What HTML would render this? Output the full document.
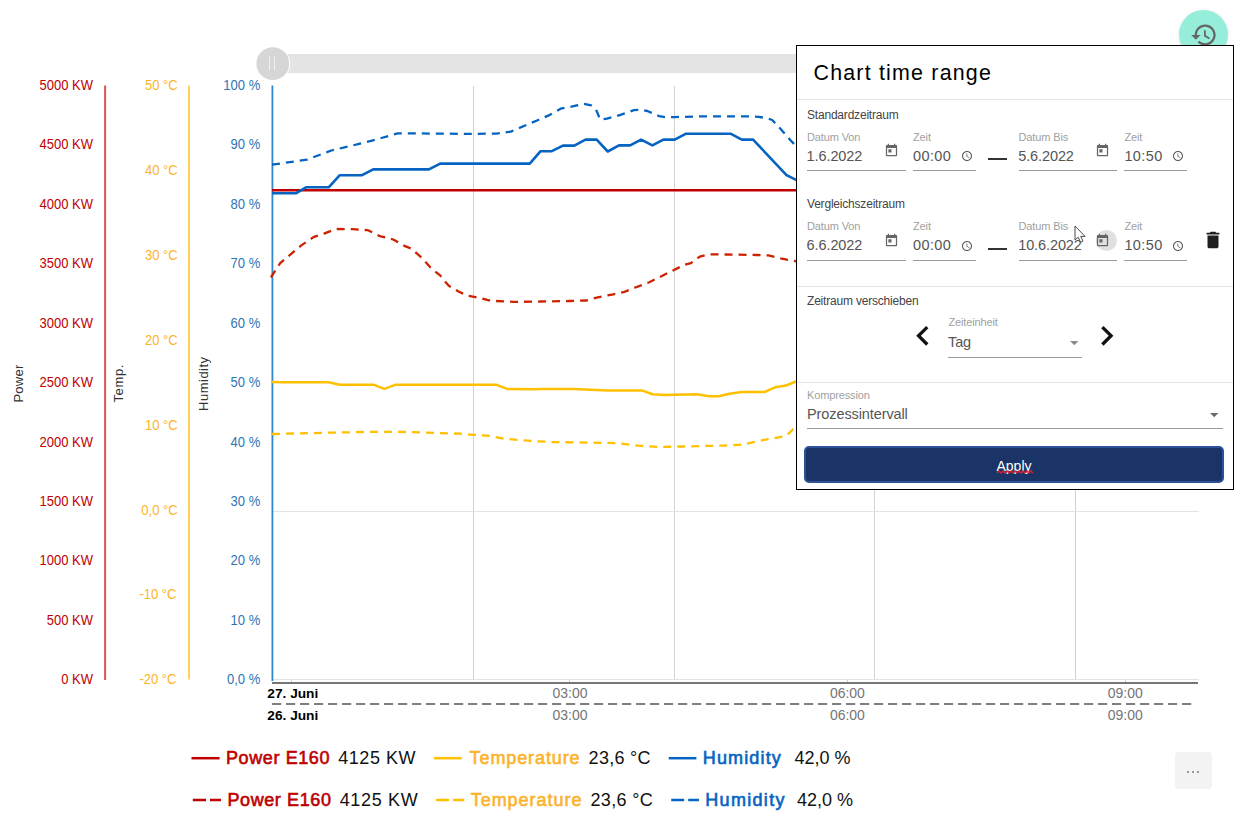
<!DOCTYPE html>
<html lang="de">
<head>
<meta charset="utf-8">
<title>Chart time range</title>
<style>
html,body{margin:0;padding:0;background:#fff;}
body{width:1245px;height:829px;position:relative;overflow:hidden;font-family:"Liberation Sans",sans-serif;}
#chart{position:absolute;left:0;top:0;width:1245px;height:829px;}
#chart text{font-family:"Liberation Sans",sans-serif;}
.yl{font-size:14px;text-anchor:end;}
.red{fill:#c00000;}
.yel{fill:#fbb32b;}
.blu{fill:#2e75b6;}
.at{font-size:13px;fill:#333;text-anchor:middle;}
.xl{font-size:14px;fill:#757575;text-anchor:middle;}
.xb{font-size:13px;font-weight:bold;fill:#000;}
.lg{font-size:18px;font-weight:normal;stroke-width:0.6px;}
.lv{font-size:18px;fill:#111;}
/* history button */
#hist{position:absolute;left:1179px;top:10px;width:49px;height:49px;border-radius:50%;background:#96eeda;box-shadow:0 1px 4px rgba(0,0,0,.10);}
#hist svg{position:absolute;left:10.5px;top:10.5px;width:28px;height:28px;}
/* panel */
#panel{position:absolute;left:796px;top:45px;width:436px;height:443px;border:1px solid #000;background:#fff;}
#panel .o{position:absolute;left:-797px;top:-46px;width:0;height:0;}
#panel .o > *{position:absolute;white-space:nowrap;}
.sep{height:1px;background:#e4e4e4;left:797px;width:436px;}
.ul{height:1px;background:#9a9a9a;}
.t{line-height:1;}
.title{font-size:21.4px;color:#000;letter-spacing:1.2px;}
.sec{font-size:12px;color:#444;letter-spacing:-0.2px;}
.lab{font-size:11px;color:#a0a0a0;letter-spacing:-0.13px;}
.val{font-size:14.5px;color:#555;letter-spacing:-0.1px;}
.tm{letter-spacing:0.4px;}
.dash{height:2px;background:#333;width:18.5px;}
.more{position:absolute;left:1174.5px;top:751.5px;width:37px;height:37px;border-radius:4px;background:#f3f3f3;}
.more i{position:absolute;top:19.5px;width:2px;height:2px;background:#9a9a9a;}
</style>
</head>
<body>
<svg id="chart" viewBox="0 0 1245 829">
<!-- CHART-CONTENT -->
<!-- slider -->
<rect x="273" y="54" width="530" height="19" fill="#e4e4e4"/>
<circle cx="272.8" cy="63.7" r="17.400" fill="#fff"/>
<circle cx="272.8" cy="63.7" r="16.400" fill="#d6d6d6"/>
<rect x="269" y="56" width="1" height="14" fill="#efefef"/>
<rect x="274" y="56" width="1" height="14" fill="#efefef"/>
<!-- grid -->
<g stroke="#d2d2d2" stroke-width="1" shape-rendering="crispEdges">
<line x1="473.5" y1="85.5" x2="473.5" y2="680"/>
<line x1="674.5" y1="85.5" x2="674.5" y2="680"/>
<line x1="874.5" y1="85.5" x2="874.5" y2="680"/>
<line x1="1075.5" y1="85.5" x2="1075.5" y2="680"/>
</g>
<g stroke="#e2e2e2" stroke-width="1" shape-rendering="crispEdges">
<line x1="272" y1="511.5" x2="1199" y2="511.5"/>
<line x1="272" y1="679.5" x2="1199" y2="679.5"/>
</g>
<!-- y axes -->
<line x1="105.1" y1="85.5" x2="105.1" y2="680" stroke="#dd5454" stroke-width="2"/>
<line x1="189" y1="85.5" x2="189" y2="679.5" stroke="#ffcc44" stroke-width="1.8"/>
<line x1="272.4" y1="85.5" x2="272.4" y2="681" stroke="#2e86cc" stroke-width="1.8"/>
<!-- x axis -->
<g stroke="#cfcfcf" stroke-width="1" shape-rendering="crispEdges">
<line x1="291.5" y1="680" x2="291.5" y2="683"/>
<line x1="569.5" y1="680" x2="569.5" y2="683"/>
<line x1="847" y1="680" x2="847" y2="683"/>
<line x1="1125" y1="680" x2="1125" y2="683"/>
</g>
<line x1="272" y1="683" x2="1198" y2="683" stroke="#757575" stroke-width="2"/>
<line x1="272" y1="704.1" x2="1194.6" y2="704.1" stroke="#7f7f7f" stroke-width="2" stroke-dasharray="9.2 4.8"/>
<!-- red labels -->
<g class="yl red">
<text transform="translate(93.0 89.8) scale(.929 1)">5000 KW</text>
<text transform="translate(93.0 149.2) scale(.929 1)">4500 KW</text>
<text transform="translate(93.0 208.7) scale(.929 1)">4000 KW</text>
<text transform="translate(93.0 268.2) scale(.929 1)">3500 KW</text>
<text transform="translate(93.0 327.6) scale(.929 1)">3000 KW</text>
<text transform="translate(93.0 387.1) scale(.929 1)">2500 KW</text>
<text transform="translate(93.0 446.5) scale(.929 1)">2000 KW</text>
<text transform="translate(93.0 506.0) scale(.929 1)">1500 KW</text>
<text transform="translate(93.0 565.4) scale(.929 1)">1000 KW</text>
<text transform="translate(93.0 624.9) scale(.929 1)">500 KW</text>
<text transform="translate(93.0 684.3) scale(.929 1)">0 KW</text>
</g>
<g class="yl yel">
<text transform="translate(177.6 89.8) scale(.929 1)">50 °C</text>
<text transform="translate(177.6 174.7) scale(.929 1)">40 °C</text>
<text transform="translate(177.6 259.7) scale(.929 1)">30 °C</text>
<text transform="translate(177.6 344.6) scale(.929 1)">20 °C</text>
<text transform="translate(177.6 429.5) scale(.929 1)">10 °C</text>
<text transform="translate(177.6 514.5) scale(.929 1)">0,0 °C</text>
<text transform="translate(176.4 599.4) scale(.929 1)">-10 °C</text>
<text transform="translate(176.4 684.3) scale(.929 1)">-20 °C</text>
</g>
<g class="yl blu">
<text transform="translate(260.2 89.8) scale(.929 1)">100 %</text>
<text transform="translate(260.2 149.2) scale(.929 1)">90 %</text>
<text transform="translate(260.2 208.7) scale(.929 1)">80 %</text>
<text transform="translate(260.2 268.2) scale(.929 1)">70 %</text>
<text transform="translate(260.2 327.6) scale(.929 1)">60 %</text>
<text transform="translate(260.2 387.1) scale(.929 1)">50 %</text>
<text transform="translate(260.2 446.5) scale(.929 1)">40 %</text>
<text transform="translate(260.2 506.0) scale(.929 1)">30 %</text>
<text transform="translate(260.2 565.4) scale(.929 1)">20 %</text>
<text transform="translate(260.2 624.9) scale(.929 1)">10 %</text>
<text transform="translate(260.2 684.3) scale(.929 1)">0,0 %</text>
</g>
<!-- axis titles -->
<text class="at" transform="translate(22.7 383.6) rotate(-90)" textLength="38">Power</text>
<text class="at" transform="translate(123.4 383.6) rotate(-90)" textLength="38">Temp.</text>
<text class="at" transform="translate(207.8 383.9) rotate(-90)" textLength="54">Humidity</text>
<!-- x labels -->
<text class="xb" x="267.3" y="697.7" textLength="51" lengthAdjust="spacingAndGlyphs">27. Juni</text>
<text class="xb" x="267.3" y="719.6" textLength="51" lengthAdjust="spacingAndGlyphs">26. Juni</text>
<text class="xl" x="570" y="698.2">03:00</text>
<text class="xl" x="847.4" y="698.2">06:00</text>
<text class="xl" x="1125.3" y="698.2">09:00</text>
<text class="xl" x="570" y="719.8">03:00</text>
<text class="xl" x="847.4" y="719.8">06:00</text>
<text class="xl" x="1125.3" y="719.8">09:00</text>
<!-- series -->
<g fill="none" stroke-linejoin="round">
<polyline stroke="#ffc000" stroke-width="2.5" points="272,381.9 283,382.3 328.5,382.3 339.8,384.7 373.4,384.7 384.3,388.9 395.8,384.7 496,384.7 507.2,388.9 535,389.3 540.8,389.1 573.4,389.1 608,390.4 641.7,390.4 652.5,394.3 664.5,394.9 697,394.3 708.9,396.2 718.7,396.2 729.5,393.8 741.5,392.1 764.2,392.1 775,387.3 785.9,385.6 797,381"/>
<polyline stroke="#ffc000" stroke-width="2.3" stroke-dasharray="8 6" points="272,434 330,432.7 373.4,431.8 406,432 460.2,433.7 473.2,434.8 490.5,435.9 503.6,438.7 533.9,441.1 551.7,442 616.7,443.1 638.4,445.7 660.1,447 681.8,446.5 725.2,445.5 742.5,444.6 764.2,439.8 785.9,436.1 790.2,432.2 794.6,427.5 797,425"/>
<polyline stroke="#cc2200" stroke-width="2.3" stroke-dasharray="8 6" points="270.9,277.4 280.2,263.1 290.3,254.6 301.3,245.4 313.9,236.9 324,233.6 335.8,229 352.7,229.2 367.9,230.2 379.7,236.1 393.2,239.5 405,246.2 411.7,248.7 421.9,258 430.3,267.3 440.4,275.7 442.1,278.2 448.8,285.8 459,291.7 467.4,295.6 474.1,296.8 481.9,298.5 490.3,300.7 513.9,301.9 540.9,301.5 569.6,301 586.4,300.5 596.6,297.6 613.4,294.3 623.5,292.2 635.3,287.5 648.8,282.5 659,277.4 670.8,271.5 684.1,265 690.7,263.2 699.8,256.6 708.2,254.4 726.3,254.5 756.4,255 768.4,255.4 780.5,258.4 797,261.5"/>
<polyline stroke="#0563c1" stroke-width="2.3" stroke-dasharray="8 6" points="272,164.7 307,159.6 331.4,150.5 359,143.9 371,140.9 397.7,133.4 414.6,133.4 470,133.9 496.4,133.6 510.8,131.6 536.5,120.7 549.4,115.1 560.6,108.7 573.5,106.2 583.1,103.8 591.2,105.4 596,109.5 598.4,115.2 600,119.5 606.9,118.6 620.4,114.9 633.9,110.2 640.6,109.8 647.3,111 659.2,116.1 665.9,117.3 674.3,117.1 700,116.4 750.2,116.4 758.7,116.9 767.1,118.1 772.2,120 778.9,127 785.6,134.6 790.7,140.5 794.9,144.8 797,147"/>
<polyline stroke="#c00000" stroke-width="2.5" points="272,190.3 797,190.3"/>
<polyline stroke="#0563c1" stroke-width="2.6" points="272,193.3 295.8,193.3 306,187.3 328.7,187.3 339.8,175.2 362.1,175.2 373.2,169.4 428.9,169.4 440.2,163.6 529.8,163.6 540.6,151.2 551.8,151.2 563,145.6 574.3,145.6 585.5,139.6 596.7,139.6 607.7,151.5 619,145.4 630.1,145.4 641.1,139.6 652.4,145.4 663.4,139.6 674.7,139.6 686.1,133.7 730.5,133.7 741.8,139.6 753.1,139.6 786.5,175.1 797,180.3"/>
</g>
<!-- legend -->
<g fill="none" stroke-width="2.5">
<line x1="191.5" y1="758.2" x2="219.6" y2="758.2" stroke="#c00000"/>
<line x1="434" y1="758.2" x2="461.8" y2="758.2" stroke="#ffc000"/>
<line x1="668.7" y1="758.2" x2="696.4" y2="758.2" stroke="#0563c1"/>
<path d="M192.8 800H206M210 800H221" stroke="#c00000"/>
<path d="M435.9 800H449M453.2 800H464.3" stroke="#ffc000"/>
<path d="M671.2 800H684.2M688.2 800H699" stroke="#0563c1"/>
</g>
<text class="lg" fill="#c00000" stroke="#c00000" x="226" y="763.7" textLength="103.5">Power E160</text>
<text class="lv" x="338.3" y="763.7" textLength="77.2">4125 KW</text>
<text class="lg" fill="#fbb32b" stroke="#fbb32b" x="469.6" y="763.7" textLength="110">Temperature</text>
<text class="lv" x="588.6" y="763.7" textLength="62">23,6 °C</text>
<text class="lg" fill="#0563c1" stroke="#0563c1" x="702.8" y="763.7" textLength="78">Humidity</text>
<text class="lv" x="794.4" y="763.7" textLength="56">42,0 %</text>
<text class="lg" fill="#c00000" stroke="#c00000" x="227.4" y="805.5" textLength="103.5">Power E160</text>
<text class="lv" x="339.7" y="805.5" textLength="78">4125 KW</text>
<text class="lg" fill="#fbb32b" stroke="#fbb32b" x="470.7" y="805.5" textLength="110.7">Temperature</text>
<text class="lv" x="590.4" y="805.5" textLength="62.4">23,6 °C</text>
<text class="lg" fill="#0563c1" stroke="#0563c1" x="705.3" y="805.5" textLength="79.2">Humidity</text>
<text class="lv" x="797" y="805.5" textLength="56">42,0 %</text>
<!-- /CHART-CONTENT -->
</svg>
<div id="hist"><svg viewBox="0 0 24 24"><path fill="#666" d="M13 3c-4.97 0-9 4.03-9 9H1l3.89 3.89.07.14L9 12H6c0-3.870 3.130-7 7-7s7 3.130 7 7-3.130 7-7 7c-1.930 0-3.680-.79-4.940-2.060l-1.420 1.420C8.270 19.990 10.510 21 13 21c4.970 0 9-4.030 9-9s-4.030-9-9-9zm-1 5v5l4.280 2.540.72-1.210-3.500-2.080V8H12z"/></svg></div>
<div class="more"><i style="left:12px"></i><i style="left:17px"></i><i style="left:22.5px"></i></div>
<div id="panel"><div class="o">
<div class="t title" style="left:813.5px;top:62.6px">Chart time range</div>
<div class="sep" style="top:99px"></div>
<div class="t sec" style="left:807px;top:108.7px">Standardzeitraum</div>

<div class="t lab" style="left:807px;top:131.6px">Datum Von</div>
<div class="t val" style="left:806.6px;top:148.7px">1.6.2022</div>
<svg class="cal" style="left:884px;top:143px" width="15" height="15" viewBox="0 0 24 24"><path fill="#666" d="M19 3h-1V1h-2v2H8V1H6v2H5c-1.110 0-1.990.9-1.990 2L3 19c0 1.100.89 2 2 2h14c1.100 0 2-.9 2-2V5c0-1.100-.9-2-2-2zm0 16H5V8h14v11zM7 10h5v5H7z"/></svg>
<div class="ul" style="left:807px;top:170px;width:98.5px"></div>
<div class="t lab" style="left:913px;top:131.6px">Zeit</div>
<div class="t val tm" style="left:913px;top:148.7px">00:00</div>
<svg class="clk" style="left:961px;top:150px" width="12" height="12" viewBox="0 0 24 24"><path fill="#555" d="M11.990 2C6.470 2 2 6.480 2 12s4.470 10 9.990 10C17.520 22 22 17.520 22 12S17.520 2 11.990 2zM12 20c-4.420 0-8-3.580-8-8s3.580-8 8-8 8 3.580 8 8-3.580 8-8 8zm.5-13H11v6l5.250 3.150.75-1.230-4.500-2.670z"/></svg>
<div class="ul" style="left:913px;top:170px;width:62.5px"></div>
<div class="dash" style="left:988px;top:158px"></div>
<div class="t lab" style="left:1018.5px;top:131.6px">Datum Bis</div>
<div class="t val" style="left:1018.2px;top:148.7px">5.6.2022</div>
<svg class="cal" style="left:1095.2px;top:143px" width="15" height="15" viewBox="0 0 24 24"><path fill="#666" d="M19 3h-1V1h-2v2H8V1H6v2H5c-1.110 0-1.990.9-1.990 2L3 19c0 1.100.89 2 2 2h14c1.100 0 2-.9 2-2V5c0-1.100-.9-2-2-2zm0 16H5V8h14v11zM7 10h5v5H7z"/></svg>
<div class="ul" style="left:1018.5px;top:170px;width:98.5px"></div>
<div class="t lab" style="left:1124.4px;top:131.6px">Zeit</div>
<div class="t val tm" style="left:1124.4px;top:148.7px">10:50</div>
<svg class="clk" style="left:1172.3px;top:150px" width="12" height="12" viewBox="0 0 24 24"><path fill="#555" d="M11.990 2C6.470 2 2 6.480 2 12s4.470 10 9.990 10C17.520 22 22 17.520 22 12S17.520 2 11.990 2zM12 20c-4.420 0-8-3.580-8-8s3.580-8 8-8 8 3.580 8 8-3.580 8-8 8zm.5-13H11v6l5.250 3.150.75-1.230-4.500-2.670z"/></svg>
<div class="ul" style="left:1124.4px;top:170px;width:63px"></div>

<div class="t sec" style="left:807px;top:197.8px">Vergleichszeitraum</div>
<div class="t lab" style="left:807px;top:220.6px">Datum Von</div>
<div class="t val" style="left:806.6px;top:238.4px">6.6.2022</div>
<svg class="cal" style="left:884px;top:232.5px" width="15" height="15" viewBox="0 0 24 24"><path fill="#666" d="M19 3h-1V1h-2v2H8V1H6v2H5c-1.110 0-1.990.9-1.990 2L3 19c0 1.100.89 2 2 2h14c1.100 0 2-.9 2-2V5c0-1.100-.9-2-2-2zm0 16H5V8h14v11zM7 10h5v5H7z"/></svg>
<div class="ul" style="left:807px;top:259.5px;width:98.5px"></div>
<div class="t lab" style="left:913px;top:220.6px">Zeit</div>
<div class="t val tm" style="left:913px;top:238.4px">00:00</div>
<svg class="clk" style="left:961px;top:239.5px" width="12" height="12" viewBox="0 0 24 24"><path fill="#555" d="M11.990 2C6.470 2 2 6.480 2 12s4.470 10 9.990 10C17.520 22 22 17.520 22 12S17.520 2 11.990 2zM12 20c-4.420 0-8-3.580-8-8s3.580-8 8-8 8 3.580 8 8-3.580 8-8 8zm.5-13H11v6l5.250 3.150.75-1.230-4.500-2.670z"/></svg>
<div class="ul" style="left:913px;top:259.5px;width:62.5px"></div>
<div class="dash" style="left:988px;top:247.5px"></div>
<div class="t lab" style="left:1018.5px;top:220.6px">Datum Bis</div>
<div class="t val" style="left:1018.2px;top:238.4px">10.6.2022</div>
<div style="left:1096px;top:229.8px;width:21px;height:21px;border-radius:50%;background:#e0e0e0"></div>
<svg class="cal" style="left:1095.2px;top:232.5px" width="15" height="15" viewBox="0 0 24 24"><path fill="#666" d="M19 3h-1V1h-2v2H8V1H6v2H5c-1.110 0-1.990.9-1.990 2L3 19c0 1.100.89 2 2 2h14c1.100 0 2-.9 2-2V5c0-1.100-.9-2-2-2zm0 16H5V8h14v11zM7 10h5v5H7z"/></svg>
<div class="ul" style="left:1018.5px;top:259.5px;width:98.5px"></div>
<div class="t lab" style="left:1124.4px;top:220.6px">Zeit</div>
<div class="t val tm" style="left:1124.4px;top:238.4px">10:50</div>
<svg class="clk" style="left:1172.3px;top:239.5px" width="12" height="12" viewBox="0 0 24 24"><path fill="#555" d="M11.990 2C6.470 2 2 6.480 2 12s4.470 10 9.990 10C17.520 22 22 17.520 22 12S17.520 2 11.990 2zM12 20c-4.420 0-8-3.580-8-8s3.580-8 8-8 8 3.580 8 8-3.580 8-8 8zm.5-13H11v6l5.250 3.150.75-1.230-4.500-2.670z"/></svg>
<div class="ul" style="left:1124.4px;top:259.5px;width:63px"></div>
<svg style="left:1201.5px;top:228.5px" width="22" height="22" viewBox="0 0 24 24"><path fill="#1e1e1e" d="M6 19c0 1.100.9 2 2 2h8c1.100 0 2-.9 2-2V7H6v12zM19 4h-3.500l-1-1h-5l-1 1H5v2h14V4z"/></svg>
<svg style="left:1073.900px;top:224.500px" width="14" height="20" viewBox="-1 -1 14 20"><path d="M0 0 L0 14 L3.200 11.200 L5.600 16.200 L8 15.100 L5.700 10.400 L10 10.400 Z" fill="#fff" stroke="#4a4a4a" stroke-width="1" stroke-linejoin="miter"/></svg>

<div class="sep" style="top:285.5px"></div>
<div class="t sec" style="left:807px;top:295px">Zeitraum verschieben</div>
<svg style="left:903.4px;top:316.2px" width="39.600" height="39.600" viewBox="0 0 24 24"><path fill="#111" d="M15.410 7.410L14 6l-6 6 6 6 1.410-1.410L10.830 12z"/></svg>
<div class="t lab" style="left:948.4px;top:317.3px">Zeiteinheit</div>
<div class="t val" style="left:948px;top:334.8px">Tag</div>
<svg style="left:1069.5px;top:340.5px" width="8.400" height="4.200" viewBox="0 0 10 5"><path fill="#8a8a8a" d="M0 0h10L5 5z"/></svg>
<div class="ul" style="left:948.4px;top:356.8px;width:134px"></div>
<svg style="left:1087px;top:316.2px" width="39.600" height="39.600" viewBox="0 0 24 24"><path fill="#111" d="M10 6L8.590 7.410 13.170 12l-4.580 4.590L10 18l6-6z"/></svg>

<div class="sep" style="top:382px"></div>
<div class="t lab" style="left:807px;top:389.5px">Kompression</div>
<div class="t val" style="left:807px;top:407.1px">Prozessintervall</div>
<svg style="left:1210px;top:413px" width="8.400" height="4.200" viewBox="0 0 10 5"><path fill="#6a6a6a" d="M0 0h10L5 5z"/></svg>
<div class="ul" style="left:807px;top:428.3px;width:415.5px"></div>

<div id="apply" style="left:804px;top:446px;width:420px;height:37px;box-sizing:border-box;border:2px solid #2e5199;border-radius:5px;background:#1a3468;color:#fff;font-size:14px;line-height:37.500px;text-align:center">Apply</div>
<svg style="left:996.500px;top:469.700px" width="37" height="5" viewBox="0 0 37 5"><path d="M0 3 l2 -2 l2 2 l2 -2 l2 2 l2 -2 l2 2 l2 -2 l2 2 l2 -2 l2 2 l2 -2 l2 2 l2 -2 l2 2 l2 -2 l2 2 l2 -2 l2 2" fill="none" stroke="#d9232f" stroke-width="1.300"/></svg>
</div></div>

</body>
</html>
